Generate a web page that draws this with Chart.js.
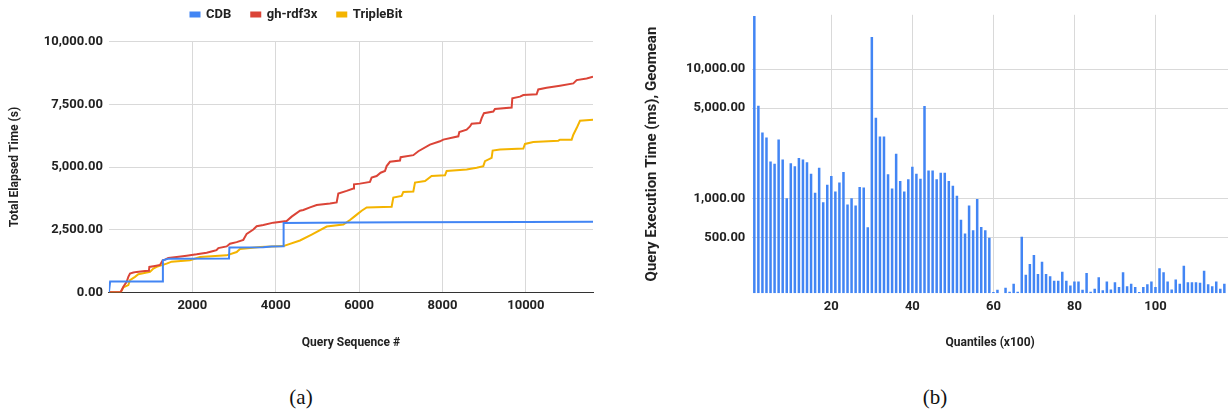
<!DOCTYPE html>
<html>
<head>
<meta charset="utf-8">
<script src="https://cdn.jsdelivr.net/npm/chart.js@4.4.1/dist/chart.umd.min.js"></script>
<style>
    body { margin: 0; background: #fff; width: 1232px; height: 417px; position: relative; overflow: hidden; }
    #elapsed-wrap { position: absolute; left: 0; top: 0; width: 597px; height: 360px; }
    #quantile-wrap { position: absolute; left: 620px; top: 0; width: 612px; height: 360px; }
    .caption { position: absolute; top: 385px; width: 60px; text-align: center; font-family: 'Liberation Serif', serif; font-size: 21px; color: #111; }
</style>
</head>
<body>
<div id="elapsed-wrap"><canvas id="elapsed" width="597" height="360"></canvas></div>
<div id="quantile-wrap"><canvas id="quantile" width="612" height="360"></canvas></div>
<div class="caption" style="left: 271px;">(a)</div>
<div class="caption" style="left: 905px;">(b)</div>

<script>
// cumulative elapsed time (s) against query sequence number
const cdbQuery = [0, 30, 1290, 1295, 1430, 2880, 2890, 3700, 3900, 4180, 4190, 5800, 7100, 10000, 11610];
const cdbTime = [0, 430, 430, 1277, 1343, 1350, 1792, 1800, 1830, 1835, 2769, 2790, 2800, 2810, 2815];

const rdfQuery = [0, 280, 346, 426, 466, 506, 586, 666, 866, 960, 970, 1106, 1226, 1290, 1345, 1425, 1625, 1865, 2105, 2185,
    2345, 2505, 2580, 2625, 2824, 2904, 3064, 3224, 3304, 3464, 3544, 3704, 3944, 4263, 4383, 4583, 4663, 4823, 4983, 5302,
    5462, 5502, 5702, 5862, 5878, 6022, 6261, 6301, 6421, 6517, 6621, 6661, 6741, 6981, 6997, 7301, 7421, 7700, 7940, 8020,
    8380, 8404, 8580, 8660, 8700, 8900, 8940, 8995, 9219, 9259, 9659, 9675, 9859, 9939, 10258, 10298, 10498, 10818, 11138, 11218,
    11458, 11610];
const rdfTime = [0, 0, 221, 419, 617, 749, 789, 815, 855, 860, 1013, 1053, 1092, 1277, 1303, 1369, 1409, 1462, 1515, 1541,
    1581, 1647, 1680, 1765, 1831, 1937, 2003, 2095, 2333, 2505, 2637, 2689, 2781, 2848, 3020, 3257, 3284, 3389, 3482, 3547,
    3587, 3943, 4048, 4140, 4312, 4338, 4404, 4576, 4642, 4774, 4840, 5038, 5210, 5262, 5394, 5474, 5632, 5896, 6028, 6094,
    6226, 6398, 6490, 6622, 6728, 6754, 6952, 7150, 7216, 7322, 7374, 7744, 7810, 7876, 7902, 8100, 8166, 8246, 8338, 8470,
    8536, 8602];

const tbQuery = [0, 282, 346, 466, 506, 626, 706, 986, 1066, 1146, 1385, 1505, 1945, 2185, 2824, 3064, 3144, 3624, 4183, 4583,
    4863, 5223, 5622, 5782, 5862, 5982, 6062, 6182, 6781, 6821, 7021, 7061, 7301, 7341, 7581, 7740, 8060, 8100, 8580, 8820,
    8979, 9019, 9179, 9203, 9379, 9939, 9979, 10178, 10778, 10818, 11098, 11138, 11218, 11298, 11610];
const tbTime = [0, 0, 195, 287, 485, 617, 723, 815, 947, 1013, 1145, 1224, 1277, 1409, 1475, 1607, 1726, 1805, 1845, 2069,
    2306, 2623, 2702, 2886, 2992, 3150, 3256, 3388, 3414, 3784, 3850, 4008, 4022, 4378, 4444, 4642, 4668, 4840, 4906, 4972,
    5038, 5236, 5368, 5659, 5698, 5738, 5922, 6002, 6054, 6094, 6094, 6292, 6556, 6846, 6886];

const elapsedTicks = [0, 2500, 5000, 7500, 10000];
const queryTicks = [2000, 4000, 6000, 8000, 10000];

// geomean execution time (ms) per quantile bucket, null = below the axis floor
const geomeanMs = [25800, 5220, 3240, 2970, 1935, 1860, 2870, 2005, 1010, 1880,
    1780, 2065, 2005, 1915, 1560, 1110, 1735, 938, 1280, 1497,
    1138, 1332, 1607, 900, 1006, 885, 1233, 1219, 601, 17740,
    4210, 3017, 3017, 1541, 1200, 2228, 1371, 1138, 1413, 1763,
    1560, 1428, 5200, 1652, 1652, 1413, 1589, 1589, 1371, 1257,
    1055, 689, 538, 885, 570, 994, 605, 570, 500, 190,
    198, null, 205, 191, 220, 191, 508, 259, 313, 368,
    262, 326, 262, 252, 233, 233, 273, 233, 214, 229,
    229, 198, 267, 191, 202, 247, 196, 229, 199, 226,
    208, 270, 211, 220, 208, 190, 208, 218, 229, 208,
    291, 270, 229, 199, 238, 220, 303, 226, 226, 226,
    224, 278, 218, 211, 229, 202, 220];
const msTicks = [500, 1000, 5000, 10000];
const quantileTicks = [20, 40, 60, 80, 100];

const textColor = '#222';
const gridColor = '#d9d9d9';
const tickFont = { family: 'Roboto', size: 13, weight: 'bold' };
const titleFont = { family: 'Roboto', size: 12, weight: 'bold' };

function twoDecimals(value) {
    return Number(value).toLocaleString('en-US', { minimumFractionDigits: 2, maximumFractionDigits: 2 });
}

function toPoints(xs, ys) {
    return xs.map((x, i) => ({ x: x, y: ys[i] }));
}

function lineSet(label, xs, ys, color) {
    return {
        label: label,
        data: toPoints(xs, ys),
        borderColor: color,
        backgroundColor: color,
        borderWidth: 2,
        pointRadius: 0,
        tension: 0
    };
}

new Chart(document.getElementById('elapsed'), {
    type: 'line',
    data: {
        datasets: [
            lineSet('CDB', cdbQuery, cdbTime, '#4285F4'),
            lineSet('gh-rdf3x', rdfQuery, rdfTime, '#DB4437'),
            lineSet('TripleBit', tbQuery, tbTime, '#F4B400')
        ]
    },
    options: {
        responsive: false,
        animation: false,
        layout: { padding: { top: -12, right: 4, left: 0, bottom: 0 } },
        plugins: {
            legend: {
                position: 'top',
                labels: {
                    color: textColor,
                    font: { family: 'Roboto', size: 13, weight: 'bold' },
                    boxWidth: 9,
                    boxHeight: 4,
                    padding: 20
                }
            },
            // empty title used as a gap between the legend and the plot
            title: {
                display: true,
                text: '',
                weight: 500,
                font: { size: 9 },
                padding: 0
            },
            tooltip: { enabled: false }
        },
        scales: {
            x: {
                type: 'linear',
                min: 0,
                max: 11610,
                afterBuildTicks: scale => { scale.ticks = queryTicks.map(v => ({ value: v })); },
                afterFit: scale => { scale.height = 67.7; },
                ticks: { color: textColor, font: tickFont, padding: 6, callback: v => String(v) },
                grid: { color: gridColor, drawTicks: false },
                border: { display: true, color: '#333', width: 1 },
                title: { display: true, text: 'Query Sequence #', color: textColor, font: titleFont, padding: { top: 4, bottom: 10 } }
            },
            y: {
                min: 0,
                max: 10000,
                afterBuildTicks: scale => { scale.ticks = elapsedTicks.map(v => ({ value: v })); },
                afterFit: scale => { scale.width = 108.9; },
                ticks: { color: textColor, font: tickFont, padding: 6, callback: v => twoDecimals(v) },
                grid: { color: gridColor, drawTicks: false },
                border: { display: false },
                title: { display: true, text: 'Total Elapsed Time (s)', color: textColor, font: titleFont, padding: { top: 8, bottom: 4 } }
            }
        }
    }
});

new Chart(document.getElementById('quantile'), {
    type: 'bar',
    data: {
        datasets: [{
            label: 'Geomean',
            data: geomeanMs.map((v, i) => ({ x: i + 1, y: v })),
            backgroundColor: '#4285F4',
            borderWidth: 0,
            categoryPercentage: 1,
            barPercentage: 0.62
        }]
    },
    options: {
        responsive: false,
        animation: false,
        layout: { padding: { top: 11, right: 4, left: 0, bottom: 0 } },
        plugins: {
            legend: { display: false },
            tooltip: { enabled: false }
        },
        scales: {
            x: {
                type: 'linear',
                offset: false,
                min: 0.5,
                max: 117.9,
                afterBuildTicks: scale => { scale.ticks = quantileTicks.map(v => ({ value: v })); },
                afterFit: scale => { scale.height = 66.7; },
                ticks: { color: textColor, font: tickFont, padding: 6 },
                grid: { color: gridColor, drawTicks: false, offset: false },
                border: { display: false },
                title: { display: true, text: 'Quantiles (x100)', color: textColor, font: titleFont, padding: { top: 4, bottom: 10 } }
            },
            y: {
                type: 'logarithmic',
                min: 186,
                max: 26300,
                afterBuildTicks: scale => { scale.ticks = msTicks.map(v => ({ value: v })); },
                afterFit: scale => { scale.width = 132.3; },
                ticks: { color: textColor, font: tickFont, padding: 7, callback: v => twoDecimals(v) },
                grid: { color: gridColor, drawTicks: false },
                border: { display: false },
                title: { display: true, text: 'Query Execution Time (ms), Geomean', color: textColor, font: { family: 'Roboto', size: 15, weight: 'bold' }, padding: { top: 23, bottom: 4 } }
            }
        }
    }
});
</script>
</body>
</html>
